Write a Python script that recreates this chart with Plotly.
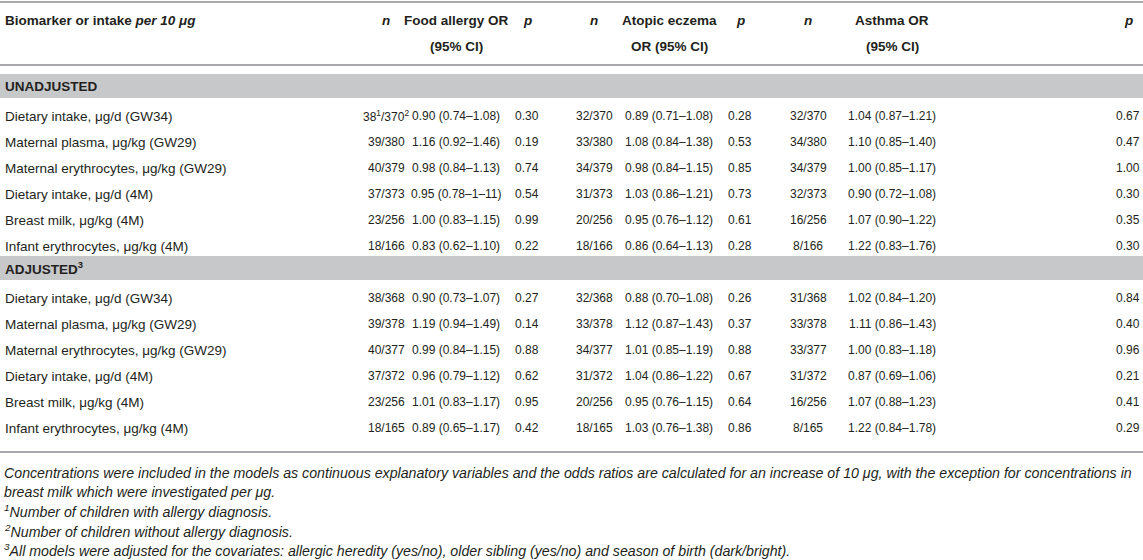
import plotly.graph_objects as go

# ---- table content ----
row_labels = [
    "Dietary intake, μg/d (GW34)",
    "Maternal plasma, μg/kg (GW29)",
    "Maternal erythrocytes, μg/kg (GW29)",
    "Dietary intake, μg/d (4M)",
    "Breast milk, μg/kg (4M)",
    "Infant erythrocytes, μg/kg (4M)",
]

# unadjusted
un_n_food = ["38<sup>1</sup>/370<sup>2</sup>", "39/380", "40/379", "37/373", "23/256", "18/166"]
un_or_food = ["0.90 (0.74–1.08)", "1.16 (0.92–1.46)", "0.98 (0.84–1.13)", "0.95 (0.78–1–11)", "1.00 (0.83–1.15)", "0.83 (0.62–1.10)"]
un_p_food = ["0.30", "0.19", "0.74", "0.54", "0.99", "0.22"]
un_n_ecz = ["32/370", "33/380", "34/379", "31/373", "20/256", "18/166"]
un_or_ecz = ["0.89 (0.71–1.08)", "1.08 (0.84–1.38)", "0.98 (0.84–1.15)", "1.03 (0.86–1.21)", "0.95 (0.76–1.12)", "0.86 (0.64–1.13)"]
un_p_ecz = ["0.28", "0.53", "0.85", "0.73", "0.61", "0.28"]
un_n_ast = ["32/370", "34/380", "34/379", "32/373", "16/256", "8/166"]
un_or_ast = ["1.04 (0.87–1.21)", "1.10 (0.85–1.40)", "1.00 (0.85–1.17)", "0.90 (0.72–1.08)", "1.07 (0.90–1.22)", "1.22 (0.83–1.76)"]
un_p_ast = ["0.67", "0.47", "1.00", "0.30", "0.35", "0.30"]

# adjusted
ad_n_food = ["38/368", "39/378", "40/377", "37/372", "23/256", "18/165"]
ad_or_food = ["0.90 (0.73–1.07)", "1.19 (0.94–1.49)", "0.99 (0.84–1.15)", "0.96 (0.79–1.12)", "1.01 (0.83–1.17)", "0.89 (0.65–1.17)"]
ad_p_food = ["0.27", "0.14", "0.88", "0.62", "0.95", "0.42"]
ad_n_ecz = ["32/368", "33/378", "34/377", "31/372", "20/256", "18/165"]
ad_or_ecz = ["0.88 (0.70–1.08)", "1.12 (0.87–1.43)", "1.01 (0.85–1.19)", "1.04 (0.86–1.22)", "0.95 (0.76–1.15)", "1.03 (0.76–1.38)"]
ad_p_ecz = ["0.26", "0.37", "0.88", "0.67", "0.64", "0.86"]
ad_n_ast = ["31/368", "33/378", "33/377", "31/372", "16/256", "8/165"]
ad_or_ast = ["1.02 (0.84–1.20)", "1.11 (0.86–1.43)", "1.00 (0.83–1.18)", "0.87 (0.69–1.06)", "1.07 (0.88–1.23)", "1.22 (0.84–1.78)"]
ad_p_ast = ["0.84", "0.40", "0.96", "0.21", "0.41", "0.29"]

header_top = ["<b>Biomarker or intake <i>per 10 μg</i></b>", "<b><i>n</i></b>", "<b>Food allergy OR</b>", "<b><i>p</i></b>",
              "<b><i>n</i></b>", "<b>Atopic eczema</b>", "<b><i>p</i></b>", "<b><i>n</i></b>", "<b>Asthma OR</b>", "<b><i>p</i></b>"]
header_bottom = ["", "", "<b>(95% CI)</b>", "", "", "<b>OR (95% CI)</b>", "", "", "<b>(95% CI)</b>", ""]

footnotes = [
    "Concentrations were included in the models as continuous explanatory variables and the odds ratios are calculated for an increase of 10 μg, with the exception for concentrations in",
    "breast milk which were investigated per μg.",
    "<sup>1</sup>Number of children with allergy diagnosis.",
    "<sup>2</sup>Number of children without allergy diagnosis.",
    "<sup>3</sup>All models were adjusted for the covariates: allergic heredity (yes/no), older sibling (yes/no) and season of birth (dark/bright).",
]

sections = [
    ("<b>UNADJUSTED</b>", [un_n_food, un_or_food, un_p_food, un_n_ecz, un_or_ecz, un_p_ecz, un_n_ast, un_or_ast, un_p_ast]),
    ("<b>ADJUSTED<sup>3</sup></b>", [ad_n_food, ad_or_food, ad_p_food, ad_n_ecz, ad_or_ecz, ad_p_ecz, ad_n_ast, ad_or_ast, ad_p_ast]),
]

# ---- layout geometry (pixels) ----
W, H = 1143, 560
col_x = [3, 386, 456, 527, 594, 669, 740, 808, 892, 1128]
text_col = "#231f20"
line_col = "#a7a9ac"
band_col = "#c7c8ca"
row_h = 26
font = "Liberation Sans, Arial, Helvetica, sans-serif"

fig = go.Figure()
ann = []
shapes = []


def add_text(x, y, txt, anchor="center", size=13, italic=False):
    ann.append(dict(x=x, y=y, xref="x", yref="y", text=txt, showarrow=False,
                    xanchor=anchor, yanchor="middle",
                    font=dict(family=font, size=size, color=text_col,
                              style="italic" if italic else "normal")))


# header
for i, (t, b) in enumerate(zip(header_top, header_bottom)):
    anchor = "left" if i == 0 else "center"
    add_text(col_x[i], 20, t, anchor, size=13.5)
    if b:
        add_text(col_x[i], 46, b, anchor, size=13.5)

shapes.append(dict(type="line", x0=0, x1=W, y0=2, y1=2, xref="x", yref="y", line=dict(color=line_col, width=2)))
shapes.append(dict(type="line", x0=0, x1=W, y0=65, y1=65, xref="x", yref="y", line=dict(color=line_col, width=2)))

y = 74
for title, cols in sections:
    shapes.append(dict(type="rect", x0=0, x1=W, y0=y, y1=y + 24, xref="x", yref="y",
                       fillcolor=band_col, line=dict(width=0), layer="below"))
    add_text(col_x[0], y + 12, title, "left", size=13.5)
    y += 24 + 18
    for r, label in enumerate(row_labels):
        add_text(col_x[0], y, label, "left", size=13.5)
        for c, col in enumerate(cols):
            add_text(col_x[c + 1], y, col[r], "center", size=12)
        y += row_h
    y = y - row_h + 10

shapes.append(dict(type="line", x0=0, x1=W, y0=452, y1=452, xref="x", yref="y", line=dict(color=line_col, width=2)))

fy = 473
for f in footnotes:
    add_text(2, fy, f, "left", size=14.2, italic=True)
    fy += 19.2

fig.update_layout(
    width=W, height=H,
    margin=dict(l=0, r=0, t=0, b=0),
    plot_bgcolor="white", paper_bgcolor="white",
    annotations=ann, shapes=shapes,
    xaxis=dict(range=[0, W], visible=False, fixedrange=True),
    yaxis=dict(range=[H, 0], visible=False, fixedrange=True),
    showlegend=False,
)

# page body has a default 8px margin; drop it so the table fills the window
fig.write_html("out.html", config={"displayModeBar": False},
               post_script="document.body.style.margin='0px';document.body.style.overflow='hidden';")
